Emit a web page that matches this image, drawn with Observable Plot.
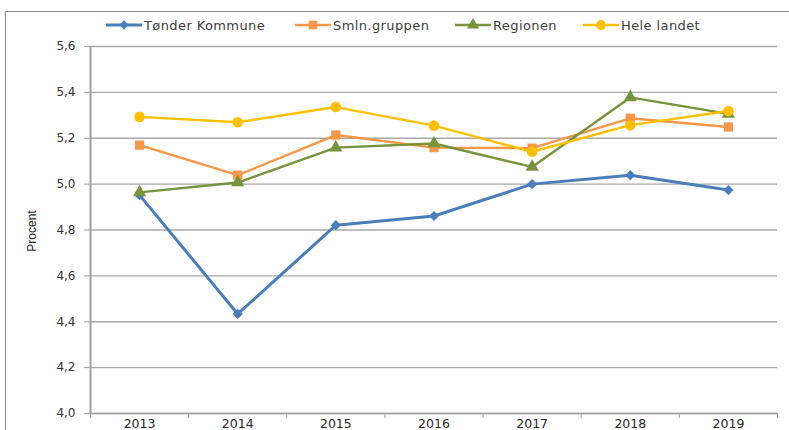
<!DOCTYPE html>
<html><head><meta charset="utf-8">
<script src="https://cdn.jsdelivr.net/npm/d3@7"></script>
<script src="https://cdn.jsdelivr.net/npm/@observablehq/plot@0.6"></script>
<style>
body{margin:0;background:#fff;}
#wrap{position:relative;width:789px;height:430px;overflow:hidden;font-family:"DejaVu Sans",sans-serif;background:#fff;}
#frame{position:absolute;left:5px;top:11px;width:900px;height:600px;border-left:1.5px solid #8c8c8c;border-top:1.5px solid #8c8c8c;}
#chart{position:absolute;left:0;top:0;}
.leg{position:absolute;top:17px;height:16px;display:flex;align-items:center;font-size:13px;letter-spacing:0.4px;color:#404040;white-space:nowrap;}
.leg svg{margin-right:2px;}
#ylab{position:absolute;left:32px;top:231px;transform:translate(-50%,-50%) rotate(-90deg);font-family:"Liberation Sans Narrow","Liberation Sans",sans-serif;font-size:12px;color:#262626;white-space:nowrap;}
</style></head><body>
<div id="wrap"><div id="frame"></div><div id="chart"></div><div id="legend"></div><div id="ylab">Procent</div></div>
<script>
const years = [2013, 2014, 2015, 2016, 2017, 2018, 2019];
const tonder = [4.952, 4.434, 4.821, 4.861, 5.000, 5.039, 4.974];
const smln = [5.170, 5.039, 5.214, 5.159, 5.157, 5.287, 5.249];
const regionen = [4.964, 5.007, 5.159, 5.177, 5.075, 5.378, 5.306];
const heleLandet = [5.293, 5.270, 5.336, 5.255, 5.141, 5.257, 5.319];
const seriesNames = ["Tønder Kommune", "Smln.gruppen", "Regionen", "Hele landet"];
const seriesColors = ["#4A7EBB", "#F79646", "#77933C", "#FFC000"];
const seriesSymbols = ["diamond2", "square", "triangle", "circle"];
const yTicks = [4.0, 4.2, 4.4, 4.6, 4.8, 5.0, 5.2, 5.4, 5.6];
const legendX = [106, 295, 455, 583];

const seriesValues = [tonder, smln, regionen, heleLandet];
const widths = [3, 2.4, 2.4, 2.4];
const radii = [4.6, 5.2, 4.9, 5.3];

const xDomain = [years[0] - 0.5, years[years.length - 1] + 0.5];
const boundaries = [...years.map(y => y - 0.5), years[years.length - 1] + 0.5];

const marks = [
  Plot.ruleY(yTicks, {stroke: "#a8a8a8", strokeWidth: 1.4}),
  Plot.axisY({ticks: yTicks, tickFormat: d => d.toFixed(1).replace(".", ","), tickSize: 6, tickPadding: 9, label: null, fontSize: 12, color: "#333", stroke: "#a0a0a0"}),
  Plot.ruleX([xDomain[0]], {stroke: "#a0a0a0", strokeWidth: 2}),
  Plot.ruleY([yTicks[0]], {stroke: "#a0a0a0", strokeWidth: 1.6}),
  Plot.axisX({ticks: boundaries, tickFormat: () => "", tickSize: 5, label: null, stroke: "#a0a0a0"}),
  Plot.axisX({ticks: years, tickSize: 0, tickPadding: 6, tickFormat: d => String(d), label: null, fontSize: 12.5, color: "#262626"})
];
seriesValues.forEach((vals, i) => {
  const data = years.map((yr, j) => ({year: yr, value: vals[j]}));
  marks.push(Plot.line(data, {x: "year", y: "value", stroke: seriesColors[i], strokeWidth: widths[i]}));
  marks.push(Plot.dot(data, {x: "year", y: "value", fill: seriesColors[i], symbol: seriesSymbols[i], r: radii[i]}));
});

const chart = Plot.plot({
  width: 789, height: 430,
  marginLeft: 90, marginRight: 12, marginTop: 46, marginBottom: 17,
  style: {background: "transparent", fontFamily: "DejaVu Sans, sans-serif", overflow: "visible"},
  x: {domain: xDomain, axis: null},
  y: {domain: [yTicks[0], yTicks[yTicks.length - 1]], axis: null},
  marks
});
document.getElementById("chart").append(chart);

const legend = document.getElementById("legend");
seriesNames.forEach((name, i) => {
  const div = document.createElement("div");
  div.className = "leg";
  div.style.left = legendX[i] + "px";
  const sym = d3.symbol().type(
    [d3.symbolDiamond2, d3.symbolSquare, d3.symbolTriangle, d3.symbolCircle][i]
  ).size(Math.PI * radii[i] * radii[i] * 0.85)();
  div.innerHTML = `<svg width="36" height="14"><line x1="0" x2="36" y1="7" y2="7" stroke="${seriesColors[i]}" stroke-width="${widths[i]}"/><path d="${sym}" transform="translate(18,7)" fill="${seriesColors[i]}"/></svg><span>${name}</span>`;
  legend.append(div);
});
</script>
</body></html>
